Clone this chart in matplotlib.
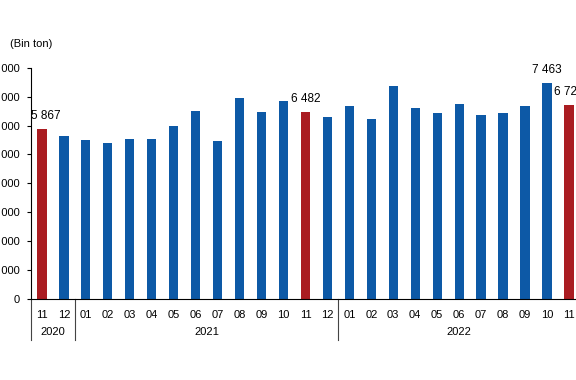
import matplotlib
matplotlib.use('Agg')
import matplotlib.pyplot as plt
import matplotlib.transforms as mtransforms

plt.rcParams['font.family'] = ['Liberation Sans', 'DejaVu Sans']

months = ['11', '12', '01', '02', '03', '04', '05', '06', '07', '08', '09', '10', '11', '12',
          '01', '02', '03', '04', '05', '06', '07', '08', '09', '10', '11']
values = [5867, 5640, 5500, 5400, 5535, 5535, 5990, 6500, 5470, 6950, 6470, 6850, 6482, 6300,
          6680, 6230, 7370, 6610, 6440, 6750, 6370, 6440, 6680, 7463, 6724]
years = ['2020', '2021', '2022']
year_centers = [0.5, 7.5, 19]
year_breaks = [-0.5, 1.5, 13.5]
highlight = [0, 12, 24]
labelled = [0, 12, 23, 24]

blue = '#0D59A6'
red = '#AA1C21'

fig = plt.figure(figsize=(5.76, 3.8), dpi=100)
ax = fig.add_axes([0.0538, 0.2132, 0.953, 0.6087])

x = list(range(len(values)))
colors = [red if i in highlight else blue for i in x]
ax.bar(x, values, width=0.42, color=colors)

ax.set_xlim(-0.5, len(values) - 0.5)
ax.set_ylim(0, 8000)
ax.set_yticks(range(0, 8001, 1000))
ax.set_yticklabels([f'{v:,}'.replace(',', ' ') for v in range(0, 8001, 1000)], fontsize=8)
ax.tick_params(axis='y', length=3, width=0.8, pad=5)
ax.set_xticks(x)
ax.set_xticklabels(months, fontsize=8)
ax.tick_params(axis='x', length=0, pad=8)

for s in ['top', 'right']:
    ax.spines[s].set_visible(False)
ax.spines['left'].set_linewidth(0.8)
ax.spines['bottom'].set_linewidth(0.8)

trans = mtransforms.blended_transform_factory(ax.transData, ax.transAxes)
for b in year_breaks:
    ax.plot([b, b], [0, -0.177], transform=trans, color='#444444', lw=0.8, clip_on=False)
for yr, c in zip(years, year_centers):
    ax.text(c, -0.1427, yr, transform=trans, ha='center', va='center', fontsize=8)

for i in labelled:
    dx = 4 if i == 0 else 0
    ax.annotate(f'{values[i]:,}'.replace(',', ' '), (i, values[i]), xytext=(dx, 13),
                textcoords='offset pixels', ha='center', va='center', fontsize=8.5,
                annotation_clip=False)

fig.text(10 / 576, 1 - 44 / 380, '(Bin ton)', ha='left', va='center', fontsize=8)

fig.savefig('out.png', dpi=100)
